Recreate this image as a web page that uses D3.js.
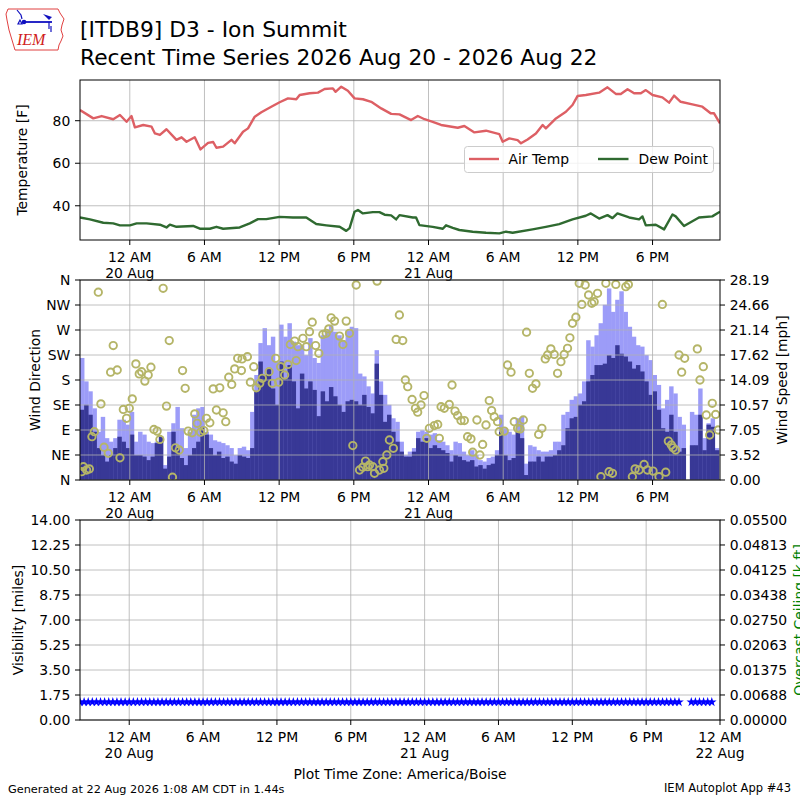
<!DOCTYPE html>
<html>
<head>
<meta charset="utf-8">
<title>ITDB9 Recent Time Series</title>
<script src="https://d3js.org/d3.v7.min.js"></script>
<style>
  body { margin: 0; background: #fff; }
  svg { font-family: "DejaVu Sans", sans-serif; }
</style>
</head>
<body>
<div id="chart"></div>
<script>
// all times are hours after 2026-08-19 20:00 local (America/Boise)
var T0 = Date.UTC(2026, 7, 19, 20, 0);

var tempObs = [[0,85.0],[1.07,81.1],[1.74,82.2],[2.67,80.7],[3.21,82.7],[3.74,79.5],[4.14,82.2],[4.41,76.9],
  [5.08,78.0],[5.75,77.2],[6.02,74.0],[6.42,73.3],[6.95,76.0],[7.75,71.0],[8.16,72.2],[8.56,70.1],[9.22,72.2],
  [9.68,66.5],[10.29,69.6],[10.7,70.0],[10.96,67.3],[11.5,67.8],[12.17,71.0],[12.43,69.4],[13.1,74.8],[13.5,76.4],
  [14.04,81.9],[14.57,84.0],[15.37,86.6],[16.04,88.7],[16.71,90.5],[17.38,90.1],[17.65,92.1],[18.45,92.9],
  [19.12,93.2],[19.65,94.9],[20.32,95.2],[20.53,93.6],[20.99,96.0],[21.52,94.1],[22.06,90.5],[22.73,90.1],
  [23.4,88.9],[24.2,85.8],[25.0,83.2],[25.67,83.0],[26.6,80.3],[27.14,82.2],[27.68,80.7],[28.34,79.5],[29.01,78.0],
  [30.35,76.7],[30.88,77.5],[31.69,74.5],[32.62,75.3],[33.69,73.7],[33.96,70.1],[34.49,71.7],[35.16,70.9],
  [35.43,69.4],[35.96,71.2],[36.63,74.0],[37.17,78.0],[37.43,76.4],[38.24,81.1],[39.04,84.2],[39.57,87.4],
  [39.97,91.6],[40.64,92.1],[41.71,93.2],[42.38,95.7],[43.05,92.6],[43.45,92.6],[43.99,94.8],[44.52,92.9],
  [45.06,92.9],[45.46,94.4],[46.0,92.1],[46.79,91.0],[47.33,88.5],[47.73,91.8],[48.26,88.9],[49.2,87.7],
  [50.0,86.6],[50.67,83.5],[50.94,83.5],[51.42,78.8]];

var dewObs = [[0,34.5],[0.8,33.6],[1.87,32.0],[2.67,31.7],[3.21,30.8],[4.01,30.8],[4.55,31.7],[5.35,31.7],
  [6.42,31.1],[6.95,29.8],[7.22,31.1],[7.75,30.1],[9.09,30.5],[9.63,29.2],[10.43,29.2],[10.96,30.1],[11.5,29.2],
  [12.83,29.8],[13.64,31.7],[14.3,33.7],[14.97,33.7],[16.04,34.8],[17.11,34.5],[18.18,34.5],[18.98,31.4],
  [19.79,30.8],[20.86,30.1],[21.39,28.2],[21.66,29.5],[22.06,37.2],[22.33,38.0],[22.73,36.4],[23.53,37.0],
  [24.06,37.0],[24.47,35.8],[25.0,35.5],[25.4,33.6],[25.67,35.6],[26.74,34.5],[27.0,34.5],[27.27,30.9],
  [28.34,30.1],[29.15,29.2],[29.41,30.8],[29.95,29.6],[30.48,28.6],[31.55,27.8],[32.62,27.3],[33.69,27.0],
  [34.23,27.8],[34.76,27.3],[36.36,28.9],[37.43,30.1],[38.5,31.4],[39.57,33.6],[40.64,35.3],[41.04,36.4],
  [41.71,34.0],[42.38,35.6],[42.78,34.2],[43.18,36.4],[44.12,34.5],[44.92,33.6],[45.19,35.0],[45.46,30.8],
  [46.26,31.1],[46.93,28.9],[47.6,35.9],[47.86,35.0],[48.53,30.5],[49.73,34.5],[50.8,35.0],[51.42,37.2]];

// wind in 20 minute steps from the start time
var windSpeed = [
  9.9,10.6,9.2,6.8,4.5,3.5,2.6,3.5,4.5,6.1,
  5.4,4.5,6.4,3.5,3.5,3.3,2.8,3.3,5.2,6.1,
  1.6,3.3,6.8,4.5,3.1,2.1,3.5,4.5,5.4,7.5,
  6.4,4.5,3.5,4.0,3.1,3.3,2.6,2.3,3.5,3.3,
  3.1,4.5,12.5,16.7,14.8,15.7,12.9,10.6,16.7,14.3,
  16.2,13.9,10.1,15.0,12.9,13.9,12.7,9.0,12.5,11.1,
  13.1,11.8,10.6,9.6,11.1,11.3,11.1,10.6,12.0,10.3,
  9.4,16.4,12.0,8.2,9.2,6.8,5.4,4.0,3.3,3.3,
  4.0,5.9,5.4,5.9,4.5,4.9,4.5,4.2,3.8,2.6,
  3.5,3.3,2.8,2.6,2.8,1.9,2.1,1.6,2.1,2.3,
  3.5,6.8,3.5,2.8,3.1,6.8,5.9,0.7,2.6,2.6,
  3.3,2.6,3.3,3.3,3.5,4.2,4.9,7.3,8.7,8.9,
  10.6,11.1,13.9,14.8,16.2,16.2,16.4,17.6,17.2,19.0,
  17.8,17.4,16.7,15.7,16.2,15.3,13.9,12.0,12.5,9.9,
  7.3,6.8,9.2,6.8,4.0,4.5,null,4.9,4.9,9.2,
  4.2,7.8,7.5,4.2];

var windGust = [
  17.2,13.9,12.5,10.1,6.8,8.9,5.9,5.4,5.9,8.5,
  8.5,7.8,9.6,5.4,6.8,6.4,5.4,5.2,5.4,6.2,
  2.1,6.8,8.0,10.3,7.3,4.5,6.8,9.2,10.1,10.3,
  6.8,6.4,5.6,5.4,5.2,4.9,4.5,3.5,4.5,4.7,
  4.2,9.6,14.8,19.3,21.4,19.0,20.2,16.7,21.9,20.2,
  22.1,19.5,19.0,19.0,17.6,20.0,17.2,16.5,20.4,21.1,
  21.8,20.9,20.4,19.7,21.1,21.6,21.4,15.0,14.6,13.2,
  12.2,18.3,13.9,12.0,10.6,8.7,8.2,5.4,3.5,4.0,
  4.5,6.8,7.0,6.8,6.4,6.6,5.6,5.4,4.9,4.2,
  5.4,5.2,4.0,3.5,4.2,3.5,2.8,2.6,3.1,3.3,
  4.2,9.2,7.3,6.8,6.4,8.7,8.9,2.3,4.9,4.7,
  4.2,4.0,4.0,4.2,5.4,5.4,9.2,9.6,11.3,11.8,
  12.2,13.9,19.7,18.8,20.4,22.1,24.7,27.0,23.7,25.4,
  26.6,23.7,21.6,20.2,19.0,18.8,17.6,16.9,14.8,13.4,
  10.1,11.3,13.2,12.2,8.9,7.8,null,9.6,9.2,12.9,
  5.9,8.0,8.7,4.5];

// [hour, degrees]
var windDir = [[0.13,15],[0.27,24],[0.53,18],[0.75,20],[0.96,78],[1.15,87],[1.47,338],[1.68,137],[1.93,59],
  [2.27,48],[2.46,194],[2.67,242],[2.99,198],[3.21,40],[3.48,127],[3.74,111],[3.96,129],[4.2,146],[4.49,209],
  [4.76,191],[4.95,195],[5.21,178],[5.48,189],[5.7,203],[5.94,91],[6.2,88],[6.42,73],[6.68,345],[6.95,133],
  [7.17,251],[7.43,5],[7.67,58],[7.97,54],[8.24,197],[8.45,165],[8.69,88],[9.01,85],[9.22,119],[9.41,102],
  [9.68,86],[9.95,89],[10.16,111],[10.43,103],[10.7,164],[10.96,126],[11.23,166],[11.5,121],[11.71,105],
  [11.95,185],[12.19,172],[12.43,200],[12.67,219],[12.97,197],[13.02,218],[13.45,222],[13.69,176],[13.96,204],
  [14.17,166],[14.44,174],[14.65,183],[15.19,195],[15.45,174],[15.72,219],[15.96,176],[16.12,204],[16.44,189],
  [16.71,208],[16.9,244],[17.25,250],[17.37,215],[17.51,240],[17.91,255],[18.18,240],[18.44,267],[18.66,284],
  [18.93,242],[19.19,228],[19.51,262],[19.78,264],[19.99,272],[20.18,292],[20.45,286],[20.85,259],[21.12,244],
  [21.39,286],[21.65,264],[21.92,62],[22.19,351],[22.46,18],[22.72,23],[22.94,34],[23.12,24],[23.26,27],
  [23.52,24],[23.66,12],[23.87,358],[24.06,18],[24.33,33],[24.41,21],[24.65,45],[24.86,72],[25.18,57],
  [25.4,253],[25.66,297],[25.93,251],[26.14,180],[26.33,168],[26.68,145],[26.95,129],[27.13,122],[27.4,135],
  [27.64,152],[27.86,75],[28.07,93],[28.47,98],[28.74,100],[28.87,75],[29.01,132],[29.27,129],[29.67,136],
  [29.89,171],[30.13,124],[30.34,116],[30.61,107],[30.88,107],[31.14,78],[31.41,74],[31.55,50],[31.89,108],
  [32.13,45],[32.35,64],[32.62,99],[32.88,143],[33.07,125],[33.28,114],[33.55,105],[33.68,87],[34.09,88],
  [34.35,207],[34.63,194],[34.89,105],[35.16,93],[35.35,92],[35.62,108],[35.88,266],[36.1,192],[36.36,165],
  [36.63,173],[36.85,82],[37.11,93],[37.38,218],[37.57,225],[37.83,236],[38.1,226],[38.37,192],[38.64,213],
  [38.9,226],[39.17,237],[39.36,256],[39.57,282],[39.84,293],[40.11,354],[40.32,316],[40.59,351],[40.86,333],
  [41.12,318],[41.31,321],[41.58,336],[41.85,6],[42.25,354],[42.51,15],[42.78,12],[43.05,352],[43.85,348],
  [44.06,352],[44.38,6],[44.6,20],[44.92,18],[45.32,28],[45.59,18],[46.04,16],[46.52,6],[46.79,316],
  [47.06,14],[47.27,70],[47.51,63],[47.65,58],[47.86,54],[48.13,225],[48.34,194],[48.58,219],[49.6,236],
  [49.81,180],[50.08,204],[50.32,117],[50.59,81],[50.8,138],[51.07,118],[51.28,90]];

// visibility in 20 minute steps from the start time
var visibility = [
  1.25,1.25,1.25,1.25,1.25,1.25,1.25,1.25,1.25,1.25,
  1.25,1.25,1.25,1.25,1.25,1.25,1.25,1.25,1.25,1.25,
  1.25,1.25,1.25,1.25,1.25,1.25,1.25,1.25,1.25,1.25,
  1.25,1.25,1.25,1.25,1.25,1.25,1.25,1.25,1.25,1.25,
  1.25,1.25,1.25,1.25,1.25,1.25,1.25,1.25,1.25,1.25,
  1.25,1.25,1.25,1.25,1.25,1.25,1.25,1.25,1.25,1.25,
  1.25,1.25,1.25,1.25,1.25,1.25,1.25,1.25,1.25,1.25,
  1.25,1.25,1.25,1.25,1.25,1.25,1.25,1.25,1.25,1.25,
  1.25,1.25,1.25,1.25,1.25,1.25,1.25,1.25,1.25,1.25,
  1.25,1.25,1.25,1.25,1.25,1.25,1.25,1.25,1.25,1.25,
  1.25,1.25,1.25,1.25,1.25,1.25,1.25,1.25,1.25,1.25,
  1.25,1.25,1.25,1.25,1.25,1.25,1.25,1.25,1.25,1.25,
  1.25,1.25,1.25,1.25,1.25,1.25,1.25,1.25,1.25,1.25,
  1.25,1.25,1.25,1.25,1.25,1.25,1.25,1.25,1.25,1.25,
  1.25,1.25,1.25,1.25,1.25,1.25,1.25,null,null,1.25,
  1.25,1.25,1.25,1.25,1.25];

var tempTicks = [40, 60, 80];
var dirTicks = [0, 45, 90, 135, 180, 225, 270, 315, 360];
var dirLabels = ["N", "NE", "E", "SE", "S", "SW", "W", "NW", "N"];
var speedTicks = [0, 3.52, 7.05, 10.57, 14.09, 17.62, 21.14, 24.66, 28.19];
var visTicks = [0, 1.75, 3.5, 5.25, 7, 8.75, 10.5, 12.25, 14];
var ceilTicks = [0, 0.00688, 0.01375, 0.02063, 0.0275, 0.03438, 0.04125, 0.04813, 0.055];

function hr(h) { return new Date(T0 + h * 3600000); }

var L = 80, R = 720;
var svg = d3.select("#chart").append("svg").attr("width", 800).attr("height", 800);

var xTop = d3.scaleUtc().domain([hr(0), hr(51.42)]).range([L, R]);
var xBot = d3.scaleUtc().domain([hr(0), hr(52)]).range([L, R]);
var yTemp = d3.scaleLinear().domain([23.9, 99.15]).range([240, 80]);
var yDir = d3.scaleLinear().domain([0, 360]).range([480, 280]);
var ySpeed = d3.scaleLinear().domain([0, 28.19]).range([480, 280]);
var yVis = d3.scaleLinear().domain([0, 14]).range([720, 520]);
var yCeil = d3.scaleLinear().domain([0, 0.055]).range([720, 520]);

var fmtHour = d3.utcFormat("%-I %p"), fmtDay = d3.utcFormat("%-d %b");
var gridColor = "#b0b0b0";

function clip(id, y0, y1) {
  svg.append("clipPath").attr("id", id).append("rect")
    .attr("x", L).attr("y", y0).attr("width", R - L).attr("height", y1 - y0);
}
clip("c1", 80, 240); clip("c2", 280, 480); clip("c3", 520, 720);

function grid(x, y, yTicks, y0, y1) {
  var g = svg.append("g").attr("stroke", gridColor).attr("stroke-width", 0.8);
  g.selectAll(".v").data(x.ticks(d3.utcHour.every(6))).join("line")
    .attr("x1", d => x(d)).attr("x2", d => x(d)).attr("y1", y0).attr("y2", y1);
  g.selectAll(".h").data(yTicks).join("line")
    .attr("x1", L).attr("x2", R).attr("y1", d => y(d)).attr("y2", d => y(d));
}

function frame(x, y0, y1, yl, lTicks, lFmt, yr, rTicks, rFmt) {
  var g = svg.append("g").attr("font-size", "13.9px").attr("fill", "#000");
  g.append("rect").attr("x", L).attr("y", y0).attr("width", R - L).attr("height", y1 - y0)
    .attr("fill", "none").attr("stroke", "#000").attr("stroke-width", 1);
  var tt = x.ticks(d3.utcHour.every(6));
  g.selectAll(".xt").data(tt).join("line")
    .attr("x1", d => x(d)).attr("x2", d => x(d)).attr("y1", y1).attr("y2", y1 + 5).attr("stroke", "#000");
  var lab = g.selectAll(".xl").data(tt).join("text").attr("text-anchor", "middle");
  lab.append("tspan").attr("x", d => x(d)).attr("y", y1 + 22.3).text(d => fmtHour(d));
  lab.filter(d => d.getUTCHours() === 0).append("tspan")
    .attr("x", d => x(d)).attr("y", y1 + 38.3).text(d => fmtDay(d));
  g.selectAll(".yl").data(lTicks).join("line")
    .attr("x1", L - 5).attr("x2", L).attr("y1", d => yl(d)).attr("y2", d => yl(d)).attr("stroke", "#000");
  g.selectAll(".ylt").data(lTicks).join("text")
    .attr("x", L - 9.7).attr("y", d => yl(d)).attr("dy", "0.36em").attr("text-anchor", "end")
    .text(lFmt);
  if (yr) {
    g.selectAll(".yr").data(rTicks).join("line")
      .attr("x1", R).attr("x2", R + 5).attr("y1", d => yr(d)).attr("y2", d => yr(d)).attr("stroke", "#000");
    g.selectAll(".yrt").data(rTicks).join("text")
      .attr("x", R + 9.7).attr("y", d => yr(d)).attr("dy", "0.36em").attr("text-anchor", "start")
      .text(rFmt);
  }
}

function vlabel(txt, x, y, color) {
  svg.append("text").attr("transform", "translate(" + x + "," + y + ") rotate(-90)")
    .attr("text-anchor", "middle").attr("font-size", "13.9px").attr("fill", color || "#000").text(txt);
}

// ---- panel 1: temperature ----
grid(xTop, yTemp, tempTicks, 80, 240);
var line = d3.line().x(d => xTop(hr(d[0]))).y(d => yTemp(d[1]));
var p1 = svg.append("g").attr("clip-path", "url(#c1)");
p1.append("path").datum(tempObs).attr("d", line).attr("fill", "none")
  .attr("stroke", "#dd5f64").attr("stroke-width", 2.4).attr("stroke-linejoin", "round");
p1.append("path").datum(dewObs).attr("d", line).attr("fill", "none")
  .attr("stroke", "#2f6a30").attr("stroke-width", 2.4).attr("stroke-linejoin", "round");
frame(xTop, 80, 240, yTemp, tempTicks, d => d);
vlabel("Temperature [F]", 27, 160);

var leg = svg.append("g").attr("font-size", "13.9px");
leg.append("rect").attr("x", 464.5).attr("y", 146.5).attr("width", 249).attr("height", 26).attr("rx", 3)
  .attr("fill", "#fff").attr("fill-opacity", 0.8).attr("stroke", "#cccccc");
leg.append("line").attr("x1", 469).attr("x2", 499).attr("y1", 159).attr("y2", 159)
  .attr("stroke", "#dd5f64").attr("stroke-width", 2.4);
leg.append("text").attr("x", 508.5).attr("y", 164).text("Air Temp");
leg.append("line").attr("x1", 598).attr("x2", 628.5).attr("y1", 159).attr("y2", 159)
  .attr("stroke", "#2f6a30").attr("stroke-width", 2.4);
leg.append("text").attr("x", 638.5).attr("y", 164).text("Dew Point");

// ---- panel 2: wind ----
var p2 = svg.append("g").attr("clip-path", "url(#c2)");
function bars(vals, color) {
  p2.append("g").selectAll("rect").data(vals.map((v, i) => [i, v]).filter(d => d[1] != null)).join("rect")
    .attr("x", d => xTop(hr(d[0] / 3)))
    .attr("width", d => xTop(hr((d[0] + 1) / 3)) - xTop(hr(d[0] / 3)) + 0.3)
    .attr("y", d => ySpeed(d[1]))
    .attr("height", d => 480 - ySpeed(d[1]))
    .attr("fill", color);
}
bars(windGust, "#9c9cf8");
bars(windSpeed, "#383896");
grid(xTop, yDir, dirTicks, 280, 480);
var p2c = svg.append("g").attr("clip-path", "url(#c2)");
p2c.selectAll("circle").data(windDir).join("circle")
  .attr("cx", d => xTop(hr(d[0]))).attr("cy", d => yDir(d[1])).attr("r", 3.7)
  .attr("fill", "none").attr("stroke", "#b5b568").attr("stroke-width", 1.9);
frame(xTop, 280, 480, yDir, dirTicks, (d, i) => dirLabels[i], ySpeed, speedTicks, d => d.toFixed(2));
vlabel("Wind Direction", 39.5, 380);
vlabel("Wind Speed [mph]", 786.5, 380);

// ---- panel 3: visibility ----
grid(xBot, yVis, visTicks, 520, 720);
var p3 = svg.append("g").attr("clip-path", "url(#c3)");
var star = d3.symbol().type(d3.symbolStar).size(29);
p3.selectAll("path").data(visibility.map((v, i) => [i, v]).filter(d => d[1] != null)).join("path")
  .attr("d", star)
  .attr("transform", d => "translate(" + xBot(hr(d[0] / 3)) + "," + yVis(d[1]) + ")")
  .attr("fill", "#0000ff");
frame(xBot, 520, 720, yVis, visTicks, d => d.toFixed(2), yCeil, ceilTicks, d => d.toFixed(5));
vlabel("Visibility [miles]", 22.5, 620);
vlabel("Overcast Ceiling [k ft]", 803.5, 620, "#008000");

// ---- titles and footer ----
svg.append("text").attr("x", 80).attr("y", 37).attr("font-size", "21.8px").text("[ITDB9] D3 - Ion Summit");
svg.append("text").attr("x", 80).attr("y", 65).attr("font-size", "21.8px")
  .text("Recent Time Series 2026 Aug 20 - 2026 Aug 22");
svg.append("text").attr("x", 400).attr("y", 779).attr("text-anchor", "middle").attr("font-size", "13.9px")
  .text("Plot Time Zone: America/Boise");
svg.append("text").attr("x", 8).attr("y", 793).attr("font-size", "11.3px")
  .text("Generated at 22 Aug 2026 1:08 AM CDT in 1.44s");
svg.append("text").attr("x", 791).attr("y", 792).attr("text-anchor", "end").attr("font-size", "11.5px")
  .text("IEM Autoplot App #43");

// IEM logo
var logo = svg.append("g");
logo.append("path").attr("d", "M8,9 L58,9 L60,13 L64,19 L62,25 L61,30 L63,36 L61,41 L59,45 L58,50 L15,50 L12,40 L9,30 L7,20 L6,14 Z")
  .attr("fill", "none").attr("stroke", "#e04040").attr("stroke-width", 1);
logo.append("line").attr("x1", 24).attr("x2", 52).attr("y1", 22).attr("y2", 22).attr("stroke", "#1010c0").attr("stroke-width", 1.8);
logo.append("circle").attr("cx", 24).attr("cy", 22).attr("r", 2.3).attr("fill", "#1010c0");
logo.append("path").attr("d", "M17,10 L21,15 L22,19 M18,24 L22,24 L20,20 Z").attr("fill", "none").attr("stroke", "#1010c0").attr("stroke-width", 1.2);
logo.append("path").attr("d", "M43,14 L52,17 L49,20 Z").attr("fill", "#1010c0");
logo.append("path").attr("d", "M49,22 L49,29 M51,26 L51,32").attr("stroke", "#1010c0").attr("stroke-width", 1.2);
logo.append("text").attr("x", 17).attr("y", 45).attr("font-family", "Liberation Serif, serif")
  .attr("font-style", "italic").attr("font-size", "16px").attr("fill", "#d02020").text("IEM");
</script>
</body>
</html>
